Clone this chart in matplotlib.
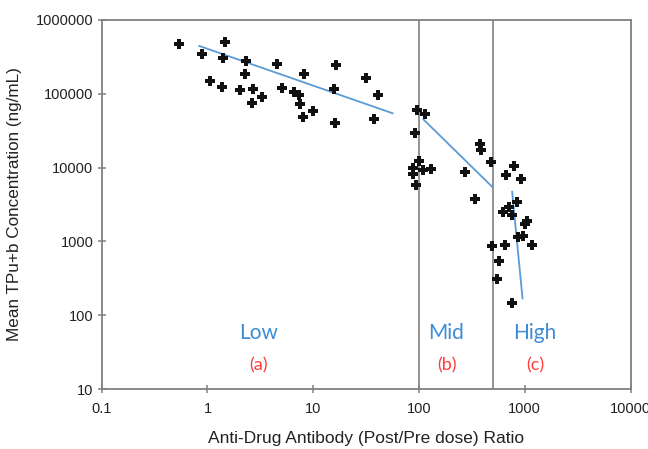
import matplotlib
matplotlib.use("Agg")
import matplotlib.pyplot as plt

# ---- data ----
low_x = [0.54, 0.88, 1.46, 1.39, 1.06, 1.38, 2.31, 2.26, 2.03, 2.67, 2.65, 3.30,
         4.54, 5.09, 6.61, 7.33, 8.23, 7.43, 9.86, 8.0, 16.4, 15.8, 16.1, 31.3, 41.1, 37.5]
low_y = [477000, 349000, 499000, 303000, 148000, 125000, 275000, 187000, 111000, 116000,
         76000, 90500, 251000, 119000, 106000, 97000, 185000, 72000, 59000, 49000,
         245000, 116000, 39800, 162000, 97000, 45000]
mid_x = [94.8, 113.8, 91.4, 100.5, 88, 108, 129, 88, 93.5, 275, 379, 384, 478, 340]
mid_y = [60000, 53000, 29000, 12400, 10000, 9300, 9600, 8200, 5900, 8800, 20700, 17200,
         11800, 3800]
high_x = [788, 662, 925, 836, 703, 617, 750, 1054, 1009, 855, 960, 1175, 486, 649, 573,
          545, 760]
high_y = [10500, 8000, 6900, 3450, 2950, 2500, 2280, 1910, 1720, 1160, 1180, 893, 876,
          893, 537, 313, 145]

fit_low_x = [0.835, 56.2]
fit_low_y = [445000, 54500]
fit_mid_x = [110, 492]
fit_mid_y = [45000, 5500]
fit_high_x = [760, 953]
fit_high_y = [4700, 169]

boundaries = [100, 500]
zone_names = ["Low", "Mid", "High"]
zone_tags = ["(a)", "(b)", "(c)"]
zone_label_x = [3.02, 182, 1245]
name_y = 56.9
tag_y = 21.1

x_ticks = [0.1, 1, 10, 100, 1000, 10000]
x_tick_labels = ["0.1", "1", "10", "100", "1000", "10000"]
y_ticks = [10, 100, 1000, 10000, 100000, 1000000]
y_tick_labels = ["10", "100", "1000", "10000", "100000", "1000000"]

x_label = "Anti-Drug Antibody (Post/Pre dose) Ratio"
y_label = "Mean TPu+b Concentration (ng/mL)"

# ---- figure ----
plt.rcParams['font.family'] = ['Liberation Sans', 'DejaVu Sans']
fig = plt.figure(figsize=(6.48, 4.49), dpi=100)
ax = fig.add_axes([0.157, 0.1336, 0.816, 0.8219])
ax.set_xscale('log')
ax.set_yscale('log')
ax.set_xlim(0.1, 10000)
ax.set_ylim(10, 1000000)

axis_col = '#808080'
for b in boundaries:
    ax.axvline(b, color=axis_col, lw=1.2, zorder=1)

blue_line = '#5B9BD5'
ax.plot(fit_low_x, fit_low_y, color=blue_line, lw=1.3, zorder=2)
ax.plot(fit_mid_x, fit_mid_y, color=blue_line, lw=1.3, zorder=2)
ax.plot(fit_high_x, fit_high_y, color=blue_line, lw=1.3, zorder=2)

for xs, ys in [(low_x, low_y), (mid_x, mid_y), (high_x, high_y)]:
    ax.plot(xs, ys, linestyle='none', marker='P', ms=7, color='#111111',
            markeredgewidth=0, zorder=3)

for nx, name, tag in zip(zone_label_x, zone_names, zone_tags):
    ax.text(nx, name_y, name, ha='center', va='center', fontsize=15,
            color='#3C8DD6', family=['Lato', 'DejaVu Sans'])
    ax.text(nx, tag_y, tag, ha='center', va='center', fontsize=13,
            color='#FF3B3B', family=['Lato', 'DejaVu Sans'])

for s in ax.spines.values():
    s.set_color(axis_col)
    s.set_linewidth(1.3)

ax.set_xticks(x_ticks)
ax.set_xticklabels(x_tick_labels)
ax.set_yticks(y_ticks)
ax.set_yticklabels(y_tick_labels)
ax.minorticks_off()
ax.tick_params(axis='both', direction='inout', length=6, width=1.1, color=axis_col,
               labelsize=10.5, labelcolor='#222222')
ax.tick_params(axis='x', pad=6)
ax.tick_params(axis='y', pad=3)

ax.set_xlabel(x_label, fontsize=12.5, color='#222222', labelpad=11)
ax.set_ylabel(y_label, fontsize=12.3, color='#222222', labelpad=10)

fig.savefig('out.png', dpi=100)
